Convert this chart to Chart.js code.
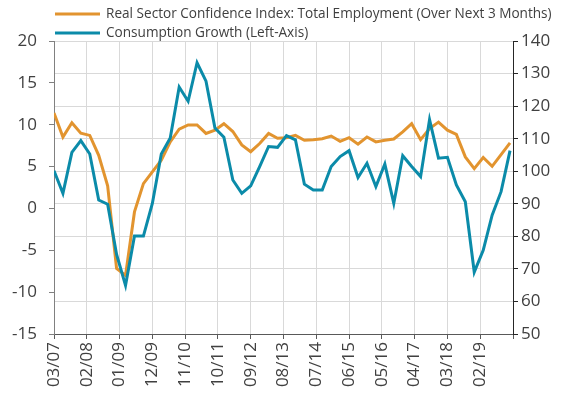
<!DOCTYPE html>
<html>
<head>
<meta charset="utf-8">
<script src="https://cdn.jsdelivr.net/npm/chart.js@4"></script>
<style>
  body { margin: 0; background: #fff; }
  #wrap { width: 563px; height: 403px; position: relative; }
</style>
</head>
<body>
<div id="wrap"><canvas id="econChart"></canvas></div>
<script>
// quarterly observations, mm/yy
var quarters = [
  "03/07","06/07","09/07","12/07","03/08","06/08","09/08","12/08",
  "03/09","06/09","09/09","12/09","03/10","06/10","09/10","12/10",
  "03/11","06/11","09/11","12/11","03/12","06/12","09/12","12/12",
  "03/13","06/13","09/13","12/13","03/14","06/14","09/14","12/14",
  "03/15","06/15","09/15","12/15","03/16","06/16","09/16","12/16",
  "03/17","06/17","09/17","12/17","03/18","06/18","09/18","12/18",
  "03/19","06/19","09/19","12/19"
];

// Real Sector Confidence Index: Total Employment (right axis)
var employment = [
  117.9, 110.5, 114.9, 111.7, 111.0, 104.9, 95.5, 70.1,
  68.0, 87.5, 96.2, 99.8, 103.4, 109.0, 112.9, 114.2,
  114.2, 111.6, 112.6, 114.6, 112.2, 108.1, 106.0, 108.5,
  111.6, 110.1, 110.3, 111.0, 109.5, 109.7, 110.0, 110.8,
  109.2, 110.3, 108.3, 110.5, 109.0, 109.5, 109.9, 112.1,
  114.6, 109.7, 113.1, 115.1, 112.6, 111.3, 104.4, 100.8,
  104.2, 101.5, 105.1, 108.7
];

// Consumption Growth (left axis)
var consumption = [
  4.5, 1.8, 6.7, 8.1, 6.5, 1.0, 0.5, -5.5,
  -9.2, -3.3, -3.3, 0.6, 6.5, 8.4, 14.5, 12.8,
  17.4, 15.2, 9.6, 8.5, 3.4, 1.8, 2.7, 5.0,
  7.4, 7.3, 8.7, 8.2, 2.9, 2.2, 2.2, 5.0,
  6.2, 6.9, 3.7, 5.4, 2.6, 5.3, 0.6, 6.3,
  5.0, 3.8, 10.6, 6.0, 6.1, 2.8, 0.8, -7.6,
  -5.0, -0.8, 2.0, 6.9
];

var tickLabels = ["03/07","02/08","01/09","12/09","11/10","10/11","09/12",
                  "08/13","07/14","06/15","05/16","04/17","03/18","02/19"];

// months since 03/07
function monthIndex(s) {
  var p = s.split('/');
  return (parseInt(p[1], 10) - 7) * 12 + (parseInt(p[0], 10) - 3);
}

var tickPos = tickLabels.map(monthIndex);
var lastPos = tickPos[tickPos.length - 1] + (tickPos[1] - tickPos[0]);
tickPos.push(lastPos);

function toPoints(vals) {
  return vals.map(function (v, i) { return { x: monthIndex(quarters[i]), y: v }; });
}

var orange = '#E2942F';
var teal = '#0B8BA9';
var textColor = '#404040';
var font = "'Open Sans', sans-serif";

var legendPlugin = {
  id: 'stackedLegend',
  afterDraw: function (chart) {
    var c = chart.ctx;
    var rows = [14, 33];
    c.save();
    chart.data.datasets.forEach(function (ds, i) {
      var y = rows[i];
      c.strokeStyle = ds.borderColor;
      c.lineWidth = 3;
      c.beginPath();
      c.moveTo(55, y);
      c.lineTo(100, y);
      c.stroke();
      c.fillStyle = textColor;
      c.font = "13.6px " + font;
      c.textBaseline = 'middle';
      c.textAlign = 'left';
      c.fillText(ds.label, 106, y);
    });
    c.restore();
  }
};

var ctx = document.getElementById('econChart').getContext('2d');
var chart = new Chart(ctx, {
  type: 'line',
  data: {
    datasets: [{
      label: 'Real Sector Confidence Index: Total Employment (Over Next 3 Months)',
      data: toPoints(employment),
      yAxisID: 'yRight',
      borderColor: orange,
      backgroundColor: orange,
      borderWidth: 3,
      pointRadius: 0,
      tension: 0,
      order: 1
    }, {
      label: 'Consumption Growth (Left-Axis)',
      data: toPoints(consumption),
      yAxisID: 'yLeft',
      borderColor: teal,
      backgroundColor: teal,
      borderWidth: 3,
      pointRadius: 0,
      tension: 0,
      order: 0
    }]
  },
  options: {
    responsive: true,
    maintainAspectRatio: false,
    animation: false,
    layout: { padding: { top: 41, left: 0, right: 0, bottom: 0 } },
    plugins: {
      legend: { display: false },
      tooltip: { enabled: false }
    },
    scales: {
      x: {
        type: 'linear',
        min: 0,
        max: lastPos,
        afterBuildTicks: function (scale) {
          scale.ticks = tickPos.map(function (v) { return { value: v }; });
        },
        afterFit: function (scale) { scale.height = 69; },
        grid: { color: '#d9d9d9', tickColor: '#595959', tickLength: 5, lineWidth: 1 },
        border: { color: '#595959' },
        ticks: {
          autoSkip: false,
          maxRotation: 90,
          minRotation: 90,
          padding: 3,
          color: textColor,
          font: { family: font, size: 17 },
          callback: function (v) {
            var idx = tickPos.indexOf(v);
            return idx >= 0 && idx < tickLabels.length ? tickLabels[idx] : '';
          }
        }
      },
      yLeft: {
        position: 'left',
        min: -15,
        max: 20,
        afterFit: function (scale) { scale.width = 54; },
        grid: { drawOnChartArea: false, tickColor: '#808080', tickLength: 5 },
        border: { color: '#808080' },
        ticks: {
          stepSize: 5,
          padding: 12,
          color: textColor,
          font: { family: font, size: 17 }
        }
      },
      yRight: {
        position: 'right',
        min: 50,
        max: 140,
        afterFit: function (scale) { scale.width = 50; },
        grid: { color: '#d9d9d9', tickColor: '#262626', tickLength: 5 },
        border: { color: '#262626' },
        ticks: {
          stepSize: 10,
          padding: 3,
          color: textColor,
          font: { family: font, size: 17 }
        }
      }
    }
  },
  plugins: [legendPlugin]
});
</script>
</body>
</html>
